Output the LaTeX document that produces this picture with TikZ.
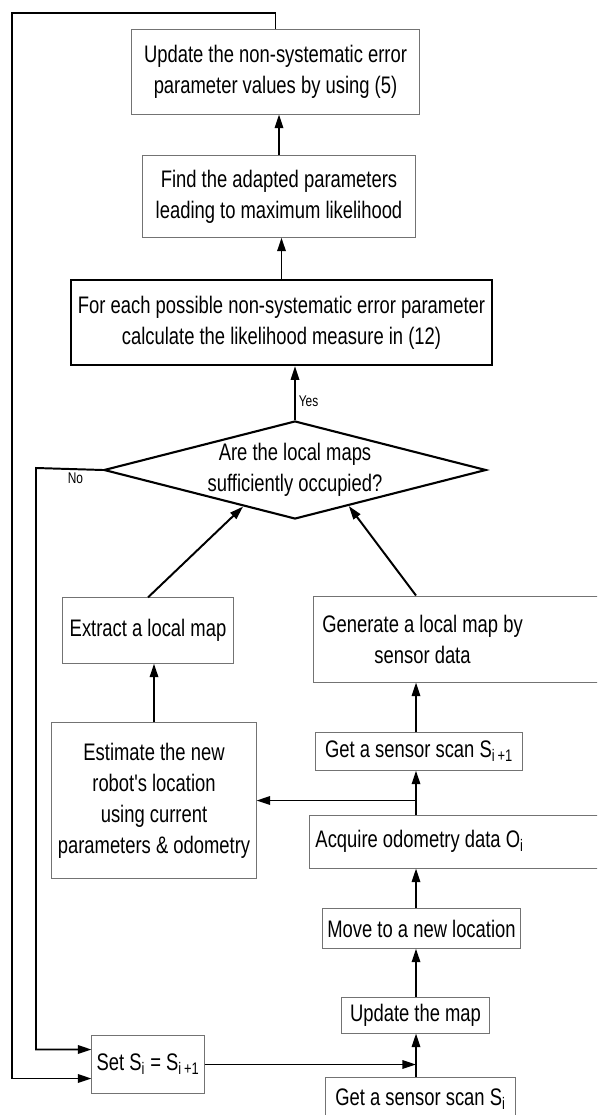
\documentclass[tikz,border=0pt]{standalone}
\usepackage{fontspec}
\newfontfamily\flowfont[FakeStretch=0.77]{Liberation Sans}
\usetikzlibrary{shapes.geometric, arrows.meta, calc, positioning}

\begin{document}
\begin{tikzpicture}[>={Triangle[length=3.4mm,width=2.1mm]}, x=0.025cm, y=-0.025cm]
        \tikzstyle{box}=[rectangle, draw=black!55, line width=0.7pt, align=center, inner sep=2pt, font=\flowfont\fontsize{17}{22}\selectfont]
        \tikzstyle{boldbox}=[box, draw=black, line width=1.5pt]
        \tikzstyle{decision}=[diamond, draw, line width=1.5pt, aspect=3.9, inner sep=0pt, align=center, font=\flowfont\fontsize{17}{22}\selectfont]
        \tikzstyle{flow}=[->, line width=1.4pt]
        \tikzstyle{tag}=[font=\flowfont\fontsize{11}{13}\selectfont, inner sep=2pt]

        \useasboundingbox (0,0) rectangle (597,1115);
        \clip (0,0) rectangle (597,1115);

        % Upper column
        \node (upd)[box, minimum width=7.18cm, minimum height=2.1cm] at (275.5,72) {Update the non-systematic error\\parameter values by using (5)};
        \node (find)[box, minimum width=6.8cm, minimum height=2.03cm] at (279,196.5) {Find the adapted parameters\\leading to maximum likelihood};
        \node (each)[boldbox, minimum width=10.53cm, minimum height=2.13cm] at (281.5,322.5) {For each possible non-systematic error parameter\\calculate the likelihood measure in (12)};
        \node (ask)[decision, minimum width=9.4cm, minimum height=2.43cm] at (295,470) {Are the local maps\\sufficiently occupied?};

        % Left column
        \node (extract)[box, minimum width=4.25cm, minimum height=1.63cm] at (148,630.5) {Extract a local map};
        \node (estimate)[box, minimum width=5.1cm, minimum height=3.88cm] at (154,800.5) {Estimate the new\\robot's location\\using current\\parameters \& odometry};
        \node (set)[box, minimum width=2.8cm, minimum height=1.43cm] at (148,1064.5) {Set S\textsubscript{i} = S\textsubscript{i\,+1}};

        % Right column (cut off by the right edge)
        \node (generate)[box, anchor=west, inner xsep=0.175cm, minimum height=2.15cm] at (313,639) {\makebox[7.5cm][l]{\makebox[5.1cm]{Generate a local map by}}\\\makebox[7.5cm][l]{\makebox[5.1cm]{sensor data}}};
        \node (scannext)[box, minimum width=5.15cm, minimum height=0.93cm] at (419,751.5) {Get a sensor scan S\textsubscript{i\,+1}};
        \node (odo)[box, anchor=west, inner xsep=0.15cm, minimum height=1.325cm] at (309,841.5) {\makebox[7.5cm][l]{Acquire odometry data O\textsubscript{i}}};
        \node (move)[box, minimum width=4.93cm, minimum height=0.98cm] at (421.5,928.5) {Move to a new location};
        \node (map)[box, minimum width=3.68cm, minimum height=0.9cm] at (415.5,1015) {Update the map};
        \node (scan)[box, minimum width=4.73cm, minimum height=1.1cm] at (420.5,1099) {Get a sensor scan S\textsubscript{i}};

        \coordinate (spine) at (416,0);
        \coordinate (corner) at (12,13);
        \coordinate (nocorner) at (36,468);

        % Arrows
        \draw[flow] (find.north) -- (find.north |- upd.south);
        \draw[flow] (each.north) -- (each.north |- find.south);
        \draw[flow] (ask.north) -- (ask.north |- each.south) node[tag, pos=0.35, right] {Yes};
        \draw[flow] (extract.north) -- ($(ask.west)!0.73!(ask.south)$);
        \draw[flow] (generate.north -| spine) -- ($(ask.south)!0.28!(ask.east)$);
        \draw[flow] (estimate.north) -- (estimate.north |- extract.south);
        \draw[flow] (scannext.north -| spine) -- (generate.south -| spine);
        \draw[flow] (odo.north -| spine) -- (scannext.south -| spine);
        \draw[flow] (estimate.east -| spine) -- (estimate.east);
        \draw[flow] (move.north -| spine) -- (odo.south -| spine);
        \draw[flow] (map.north -| spine) -- (move.south -| spine);
        \draw[flow] (scan.north -| spine) -- (map.south -| spine);
        \draw[flow] (set.east) -- (set.east -| spine);

        % Loops back to Set
        \draw[flow] (ask.west) -- (nocorner) node[tag, pos=0.41, below] {No} |- ($(set.west)+(0,-15)$);
        \draw[flow] (upd.north) |- (corner) |- ($(set.west)+(0,14)$);
\end{tikzpicture}
\end{document}
